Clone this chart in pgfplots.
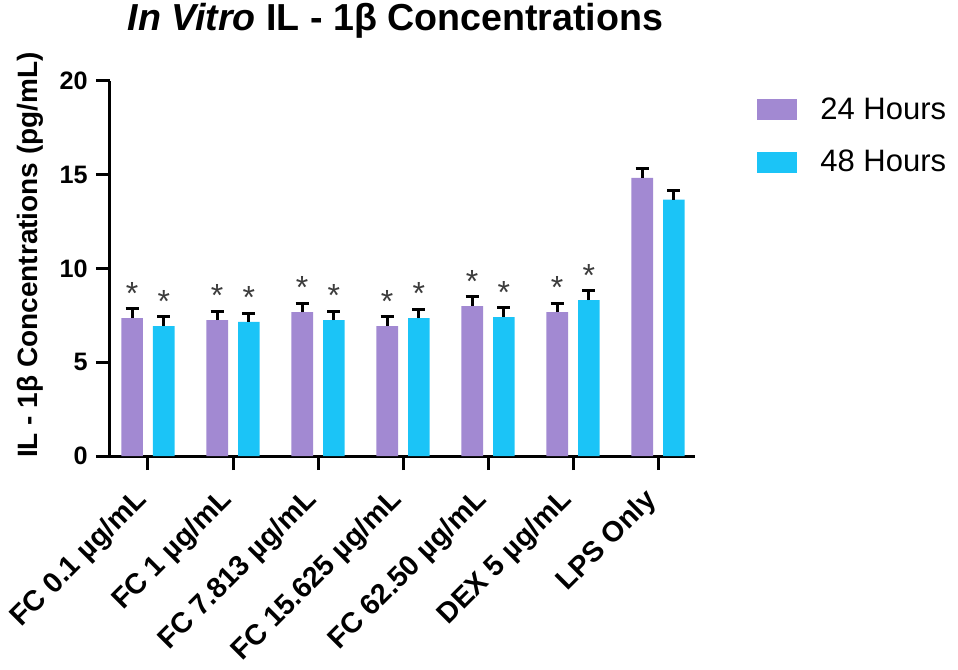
\documentclass[border=0pt]{standalone}
\usepackage{fontspec}
\setmainfont{Liberation Sans}
\usepackage{pgfplots}
\usepackage{pgfplotstable}
\pgfplotsset{compat=1.18}
\definecolor{hrA}{RGB}{162,137,210}
\definecolor{hrB}{RGB}{27,196,247}
\definecolor{star}{RGB}{60,60,60}

% 24 hours
\pgfplotstableread[col sep=comma]{
x,y,e,s
0,7.36,0.50,*
1,7.25,0.45,*
2,7.68,0.45,*
3,6.93,0.50,*
4,8.00,0.50,*
5,7.68,0.45,*
6,14.83,0.50,
}\tabA
% 48 hours
\pgfplotstableread[col sep=comma]{
x,y,e,s
0,6.93,0.50,*
1,7.15,0.45,*
2,7.25,0.45,*
3,7.36,0.45,*
4,7.41,0.50,*
5,8.32,0.50,*
6,13.67,0.50,
}\tabB

\pgfplotsset{
  gpbar/.style={
    draw=none,
    legend image code/.code={\fill[##1] (0pt,-5.25pt) rectangle (20pt,5.25pt);},
    error bars/y dir=plus, error bars/y explicit,
    error bars/error bar style={line width=1.6pt, black},
    error bars/error mark options={rotate=90, line width=1.6pt, mark size=3.25pt, black},
  },
}

\begin{document}
\begin{tikzpicture}
\begin{axis}[
    name=ax,
    scale only axis,
    width=292.5pt, height=187.5pt,
    ybar=5pt, bar width=10.8pt,
    xmin=-0.447, xmax=6.435,
    ymin=0, ymax=20,
    axis x line=bottom, axis y line=left,
    axis line style={line width=1.5pt, -},
    tick style={line width=1.5pt, black},
    tick align=outside, major tick length=7pt,
    xtick={0,...,6},
    xticklabels={FC 0.1 µg/mL, FC 1 µg/mL, FC 7.813 µg/mL, FC 15.625 µg/mL,
                 FC 62.50 µg/mL, DEX 5 µg/mL, LPS Only},
    xticklabel style={rotate=45, anchor=north east, inner sep=1pt,
                      xshift=-10pt, yshift=0.5pt,
                      font=\bfseries\fontsize{14.3}{16}\selectfont},
    ytick={0,5,...,20},
    yticklabel style={font=\bfseries\fontsize{12.6}{14}\selectfont, inner sep=4pt},
    /pgf/number format/assume math mode=true,
    title={\textit{In Vitro} IL - 1β Concentrations},
    title style={font=\bfseries\fontsize{18.8}{20}\selectfont,
                 at={(0.5,1)}, anchor=base, yshift=19pt, xshift=-3.5pt},
    ylabel={IL - 1β Concentrations (pg/mL)},
    ylabel style={font=\bfseries\fontsize{14}{16}\selectfont,
                  at={(axis description cs:-0.137,0.536)}, anchor=center},
    point meta=explicit symbolic,
    nodes near coords,
    nodes near coords style={anchor=south, inner sep=0pt, yshift=6.5pt,
                             font=\fontsize{16}{16}\selectfont, text=star},
    legend style={draw=none, fill=none, at={(rel axis cs:1,1)},
                  anchor=north west, xshift=31pt, yshift=-8pt,
                  inner sep=0pt, row sep=14pt,
                  nodes={inner sep=0pt},
                  font=\fontsize{15.5}{18}\selectfont,
                  /tikz/every odd column/.append style={column sep=11.5pt}},
]
\addplot[gpbar, fill=hrA]
    table[x=x, y=y, y error=e, meta=s] {\tabA};
\addlegendentry{24 Hours}
\addplot[gpbar, fill=hrB]
    table[x=x, y=y, y error=e, meta=s] {\tabB};
\addlegendentry{48 Hours}
\end{axis}
\pgfresetboundingbox
\useasboundingbox ([xshift=-55pt,yshift=-106.5pt]ax.south west)
    rectangle ([xshift=131.5pt,yshift=40.5pt]ax.north east);
\end{tikzpicture}
\end{document}
